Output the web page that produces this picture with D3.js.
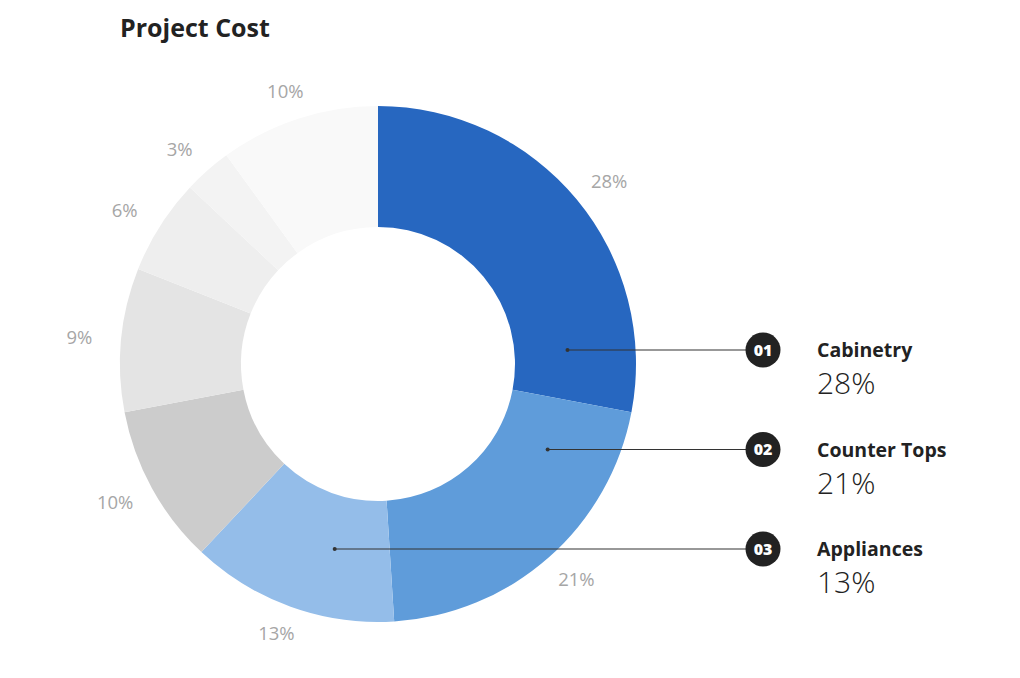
<!DOCTYPE html>
<html>
<head>
<meta charset="utf-8">
<script src="https://cdn.jsdelivr.net/npm/d3@7"></script>
<style>
  body { margin: 0; background: #fff; }
  svg { display: block; font-family: "Open Sans", Lato, sans-serif; }
</style>
</head>
<body>
<div id="chart"></div>
<script>
// data
var categories = ["Cabinetry", "Counter Tops", "Appliances", "Flooring", "Lighting", "Plumbing", "Paint", "Other"];
var costShare = [28, 21, 13, 10, 9, 6, 3, 10];
var sliceColors = ["#2767c0", "#5f9cda", "#94bde9", "#cccccc", "#e4e4e4", "#eeeeee", "#f3f3f3", "#f9f9f9"];
var calloutNumbers = ["01", "02", "03"];

var width = 1020, height = 678;
var cx = 378, cy = 364;
var outerR = 258, innerR = 137;

function createSVG(parent, height, width){
  return d3.select(parent)
    .append('svg')
    .attr('height', height)
    .attr('width', width);
}

var svg = createSVG('#chart', height, width);

svg.append('text')
  .attr('x', 120)
  .attr('y', 37)
  .attr('fill', '#222')
  .attr('font-size', 25)
  .attr('font-weight', 700)
  .text('Project Cost');

var pie = d3.pie().sort(null).value(function(d){ return d; });
var arcs = pie(costShare);
var arc = d3.arc().innerRadius(innerR).outerRadius(outerR);
var labelArc = d3.arc().innerRadius(300).outerRadius(300);

var g = svg.append('g').attr('transform', 'translate(' + cx + ',' + cy + ')');

g.selectAll('path.slice')
  .data(arcs)
  .enter().append('path')
  .attr('class', 'slice')
  .attr('d', arc)
  .attr('fill', function(d, i){ return sliceColors[i]; });

// percentage labels sit on a slightly flattened ring outside the donut
g.selectAll('text.pct')
  .data(arcs)
  .enter().append('text')
  .attr('class', 'pct')
  .attr('transform', function(d){
    var c = labelArc.centroid(d);
    return 'translate(' + c[0] + ',' + (c[1] * 0.955) + ')';
  })
  .attr('text-anchor', 'middle')
  .attr('dy', '0.36em')
  .attr('font-size', 18.5)
  .attr('fill', '#a6a6a6')
  .text(function(d){ return d.value + '%'; });

// callouts for the first three slices
var rowY = d3.scalePoint().domain(calloutNumbers).range([350, 549]);
var badgeX = 763, textX = 817, dotR = 190;

// where the row line meets the ring of radius dotR inside the slice
function dotX(d, y){
  var dy = y - cy;
  var dx = Math.sqrt(Math.max(0, dotR * dotR - dy * dy));
  var a = Math.atan2(dx, -dy);
  if (a < 0) a += 2 * Math.PI;
  return (a >= d.startAngle && a <= d.endAngle) ? cx + dx : cx - dx;
}

var callouts = svg.selectAll('g.callout')
  .data(calloutNumbers)
  .enter().append('g')
  .attr('class', 'callout');

callouts.each(function(num, i){
  var sel = d3.select(this);
  var y = rowY(num);
  var x0 = dotX(arcs[i], y);
  sel.append('line')
    .attr('x1', x0).attr('x2', badgeX)
    .attr('y1', y).attr('y2', y)
    .attr('stroke', '#333')
    .attr('stroke-width', 1.2);
  sel.append('circle')
    .attr('cx', x0).attr('cy', y).attr('r', 2)
    .attr('fill', '#333');
  sel.append('circle')
    .attr('cx', badgeX).attr('cy', y).attr('r', 17.5)
    .attr('fill', '#222');
  sel.append('text')
    .attr('x', badgeX).attr('y', y)
    .attr('dy', '0.35em')
    .attr('text-anchor', 'middle')
    .attr('fill', '#fff')
    .attr('font-size', 16)
    .attr('font-weight', 800)
    .text(num);
  sel.append('text')
    .attr('x', textX).attr('y', y + 7)
    .attr('fill', '#222')
    .attr('font-size', 19.5)
    .attr('font-weight', 700)
    .text(categories[i]);
  sel.append('text')
    .attr('x', textX).attr('y', y + 44)
    .attr('fill', '#222')
    .attr('font-size', 30)
    .attr('font-weight', 300)
    .text(costShare[i] + '%');
});
</script>
</body>
</html>
